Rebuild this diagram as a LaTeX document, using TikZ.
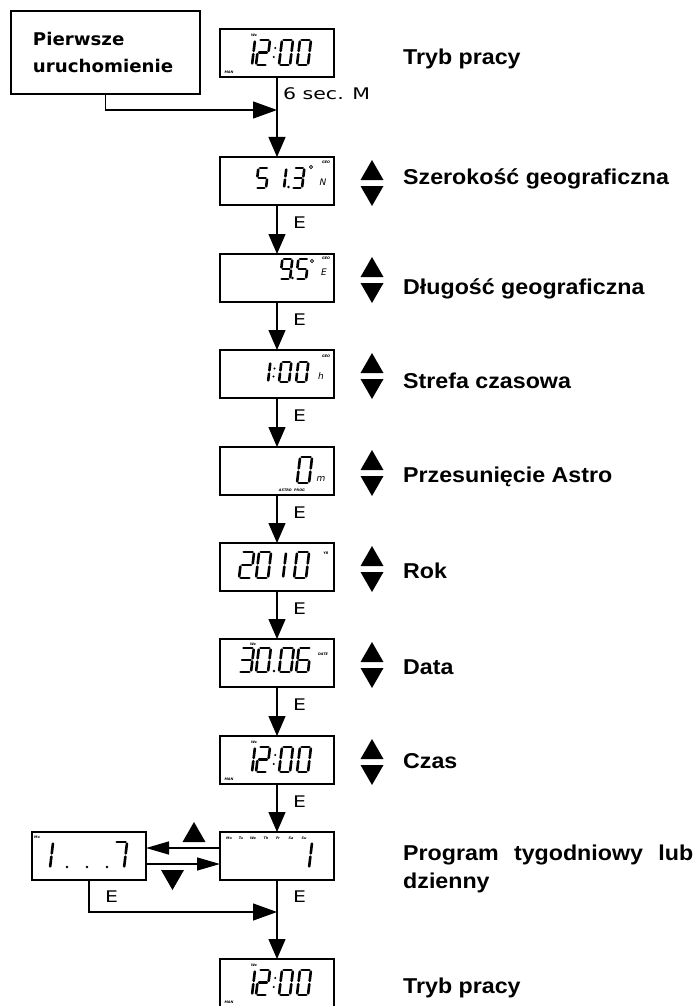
\documentclass[tikz,border=0pt]{standalone}
\usepackage{fontspec}
\setmainfont{Liberation Sans}
\newfontfamily\lblfont[FakeStretch=1.08]{Liberation Sans}
\newfontfamily\smf[FakeStretch=1.28]{DejaVu Sans}
\newfontfamily\bxf[FakeStretch=1.04]{DejaVu Sans}
\newfontfamily\lcdf{DejaVu Sans}
\usetikzlibrary{arrows.meta}
% seven-segment digit definitions
\def\dzero{q1/q2,q2/q4,q4/q6,q5/q6,q3/q5,q1/q3}
\def\done{q2/q4,q4/q6}
\def\dtwo{q1/q2,q2/q4,q3/q4,q3/q5,q5/q6}
\def\dthree{q1/q2,q2/q4,q3/q4,q4/q6,q5/q6}
\def\dfive{q1/q2,q1/q3,q3/q4,q4/q6,q5/q6}
\def\dsix{q1/q2,q1/q3,q3/q4,q3/q5,q4/q6,q5/q6}
\def\dseven{q1/q2,q2/q4,q4/q6}
\def\dnine{q1/q2,q1/q3,q2/q4,q3/q4,q4/q6,q5/q6}
% #1 x (bottom-left), #2 y top, #3 width, #4 height, #5 segments
\newcommand{\sdig}[5]{%
  \begin{scope}[shift={({#1+0.12*#4},{#2})},xslant=0.12]
    \coordinate (q1) at (0,0);
    \coordinate (q2) at (#3,0);
    \coordinate (q3) at (0,#4/2);
    \coordinate (q4) at (#3,#4/2);
    \coordinate (q5) at (0,#4);
    \coordinate (q6) at (#3,#4);
  \end{scope}
  \foreach \s/\t in #5 {\draw[seg] (\s) -- (\t);}
}
\newcommand{\clockd}[1]{%
  \sdig{241}{#1+11}{11}{25}{\done}
  \sdig{256}{#1+11}{11}{25}{\dtwo}
  \fill (275.2,#1+19) circle[radius=1.1pt];
  \fill (273.8,#1+28) circle[radius=1.1pt];
  \sdig{279}{#1+11}{11}{25}{\dzero}
  \sdig{297}{#1+11}{11}{25}{\dzero}
  \node[tinyt] at (254,#1+6) {We};
  \node[tinyt] at (229,#1+43) {MAN};
}
\newcommand{\updown}[1]{%
  \fill (372,#1+3) -- (383.5,#1+23) -- (360.5,#1+23) -- cycle;
  \fill (360.5,#1+29) -- (383.5,#1+29) -- (372,#1+49) -- cycle;
}
\begin{document}
\begin{tikzpicture}[x=1pt,y=-1pt,
  lcd/.style={draw, line width=1.9pt, minimum width=114pt, minimum height=48pt, inner sep=0pt, outer sep=0pt, anchor=north west},
  conn/.style={line width=1.3pt},
  varr/.style={conn, -{Triangle[length=20pt,width=17pt]}},
  harr/.style={conn, -{Triangle[length=24pt,width=17pt]}},
  sarr/.style={conn, -{Triangle[length=23pt,width=13pt]}},
  seg/.style={line width=2.6pt, line cap=round, shorten <=1.6pt, shorten >=1.6pt},
  lbl/.style={anchor=base west, inner sep=0pt, font={\lblfont\bfseries\fontsize{21.5}{26}\selectfont}},
  elbl/.style={anchor=base west, inner sep=0pt, font={\smf\fontsize{16}{18}\selectfont}},
  tinyt/.style={inner sep=0pt, font={\lcdf\bfseries\itshape\fontsize{3.4}{4}\selectfont}},
  lcdl/.style={inner sep=0pt, font={\lcdf\itshape\fontsize{9}{9}\selectfont}}
]
\clip (0,0) rectangle (697,1006);
\fill[white] (0,0) rectangle (697,1006);

% start box
\node[draw, line width=1.9pt, anchor=north west, minimum width=189pt, minimum height=83pt,
      text width=145pt, inner xsep=22pt, align=left,
      font={\bxf\bfseries\fontsize{17.5}{27}\selectfont}] (start) at (10,10) {Pierwsze\\uruchomienie\par\vspace{8pt}};

% displays
\node[lcd] (d0) at (220,29) {};
\node[lcd] (d1) at (220,157) {};
\node[lcd] (d2) at (220,254) {};
\node[lcd] (d3) at (220,350) {};
\node[lcd] (d4) at (220,447) {};
\node[lcd] (d5) at (220,543) {};
\node[lcd] (d6) at (220,639) {};
\node[lcd] (d7) at (220,736) {};
\node[lcd] (d8) at (220,832) {};
\node[lcd] (L) at (32,832) {};
\node[lcd, minimum height=60pt] (d9) at (220,959) {};

% D0
\clockd{29}
% D1
\sdig{256}{168}{10}{20}{\dfive}
\sdig{274}{168}{10}{20}{\done}
\fill (288.5,187) circle[radius=1.3pt];
\sdig{292}{168}{10}{20}{\dthree}
\draw[line width=0.8pt] (311,167) circle[radius=1.6pt];
\node[lcdl] at (323,182) {N};
\node[tinyt] at (326,162) {GEO};
% D2
\sdig{280}{259}{10}{20}{\dnine}
\fill (292.5,278) circle[radius=1.3pt];
\sdig{296}{259}{10}{20}{\dfive}
\draw[line width=0.8pt] (312,261) circle[radius=1.6pt];
\node[lcdl] at (324,272) {E};
\node[tinyt] at (326,258) {GEO};
% D3
\sdig{258}{362}{10}{20}{\done}
\fill (274.5,368.5) circle[radius=1.1pt];
\fill (273.5,376.5) circle[radius=1.1pt];
\sdig{279}{362}{10}{20}{\dzero}
\sdig{296}{362}{10}{20}{\dzero}
\node[lcdl] at (321,376) {h};
\node[tinyt] at (326,356) {GEO};
% D4
\sdig{297}{457}{12}{26}{\dzero}
\node[lcdl] at (321,479) {m};
\node[tinyt] at (292,490) {ASTRO\ \ PROG};
% D5
\sdig{239}{552}{12}{26}{\dtwo}
\sdig{256}{552}{12}{26}{\dzero}
\sdig{271}{552}{12}{26}{\done}
\sdig{294}{552}{12}{26}{\dzero}
\node[tinyt] at (326,553) {YR};
% D6
\sdig{239}{648}{12}{24}{\dthree}
\sdig{256}{648}{12}{24}{\dzero}
\fill (274,671) circle[radius=1.3pt];
\sdig{279}{648}{12}{24}{\dzero}
\sdig{296}{648}{12}{24}{\dsix}
\node[tinyt] at (253,644) {We};
\node[tinyt] at (323,654) {DATE};
% D7
\clockd{736}
% D8
\sdig{297}{842}{12}{26}{\done}
\foreach \dx/\dn in {229/Mo,241/Tu,253/We,266/Th,278/Fr,291/Sa,304/Su}
  {\node[tinyt] at (\dx,838) {\dn};}
% L
\node[tinyt] at (37,837) {Mo};
\sdig{38}{842}{12}{26}{\done}
\fill (67,867) circle[radius=1.3pt];
\fill (87,867) circle[radius=1.3pt];
\fill (107,867) circle[radius=1.3pt];
\sdig{112}{842}{12}{26}{\dseven}
% D9
\clockd{959}

% up/down triangles
\foreach \tp in {157,254,350,447,543,639,736} {\updown{\tp}}
\fill (194,822) -- (205.5,842) -- (182.5,842) -- cycle;
\fill (161,870) -- (184,870) -- (172.5,890) -- cycle;

% labels
\node[lbl] (l0) at (403,65) {Tryb pracy};
\node[lbl] (l1) at (403,184) {Szerokość geograficzna};
\node[lbl] (l2) at (403,294) {Długość geograficzna};
\node[lbl] (l3) at (403,388) {Strefa czasowa};
\node[lbl] (l4) at (403,482) {Przesunięcie Astro};
\node[lbl] (l5) at (403,578) {Rok};
\node[lbl] (l6) at (403,674) {Data};
\node[lbl] (l7) at (403,768) {Czas};
\node[lbl] (l8) at (403,860) {\makebox[290pt][s]{Program tygodniowy lub}};
\node[lbl] (l8b) at (403,888) {dzienny};
\node[lbl] (l9) at (403,993) {Tryb pracy};

% connectors
\coordinate (j1) at (277,110);
\coordinate (j2) at (277,912);
\draw[harr] (start.south) |- (j1);
\draw[varr] (d0.south) -- (d1.north);
\draw[varr] (d1.south) -- (d2.north);
\draw[varr] (d2.south) -- (d3.north);
\draw[varr] (d3.south) -- (d4.north);
\draw[varr] (d4.south) -- (d5.north);
\draw[varr] (d5.south) -- (d6.north);
\draw[varr] (d6.south) -- (d7.north);
\draw[varr] (d7.south) -- (d8.north);
\draw[varr] (d8.south) -- (d9.north);
\draw[sarr] ([yshift=8pt]d8.west) -- ([yshift=8pt]L.east);
\draw[sarr] ([yshift=-8pt]L.east) -- ([yshift=-8pt]d8.west);
\draw[harr] (L.south) |- (j2);

% connector labels
\node[elbl] (t6) at (283,100) {6 sec. M};
\foreach \ey in {228,325,421,518,614,710,807,902} {\node[elbl] at (293,\ey) {E};}
\node[elbl] (eL) at (105,902) {E};
\end{tikzpicture}
\end{document}
